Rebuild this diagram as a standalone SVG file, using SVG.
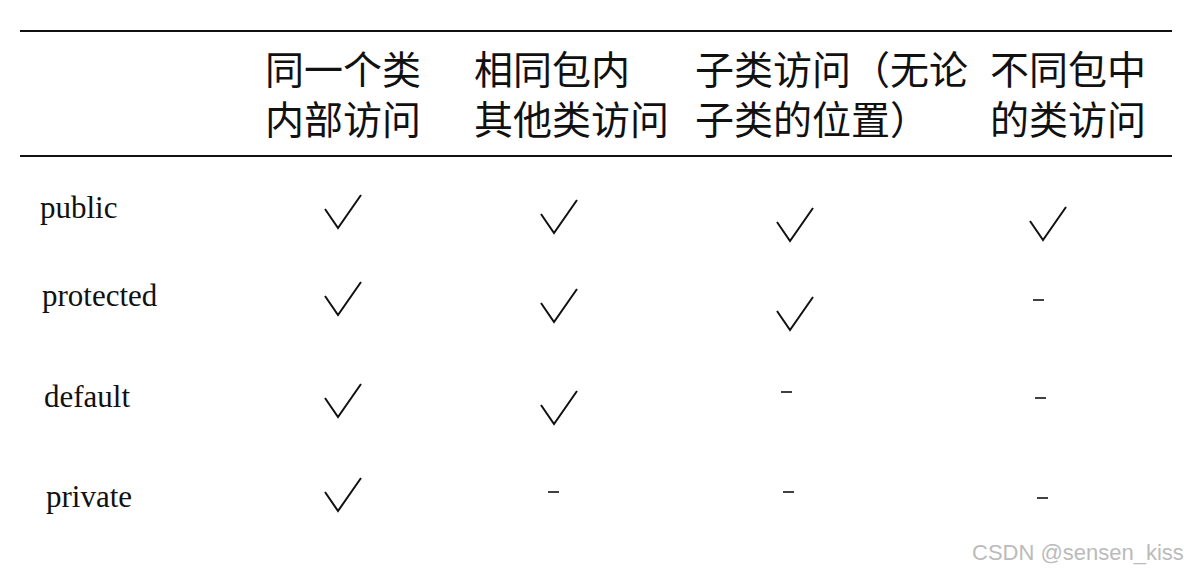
<svg xmlns="http://www.w3.org/2000/svg" width="1184" height="573" viewBox="0 0 1184 573">
<style>
.h{font-family:"Noto Sans CJK SC","Noto Sans",sans-serif;font-size:39px;fill:#111}
.r{font-family:"Liberation Serif",serif;font-size:31px;fill:#111}
.ck{fill:none;stroke:#111;stroke-width:2}
.d{stroke:#111;stroke-width:1.6}
</style>
<defs><polyline id="c" class="ck" points="0,14 13,33 36,0"/></defs>
<rect width="1184" height="573" fill="#fff"/>
<line x1="20" y1="31" x2="1172" y2="31" stroke="#111" stroke-width="2"/>
<line x1="20" y1="156" x2="1172" y2="156" stroke="#111" stroke-width="2"/>
<g id="header">
<text class="h" x="265" y="84">同一个类</text><text class="h" x="265" y="134">内部访问</text>
<text class="h" x="474" y="84">相同包内</text><text class="h" x="474" y="134">其他类访问</text>
<text class="h" x="695" y="84">子类访问（无论</text><text class="h" x="695" y="134">子类的位置）</text>
<text class="h" x="990" y="84">不同包中</text><text class="h" x="990" y="134">的类访问</text>
</g>
<g id="rows">
<text class="r" x="40" y="218">public</text>
<text class="r" x="42" y="306">protected</text>
<text class="r" x="44" y="407">default</text>
<text class="r" x="46" y="507">private</text>
</g>
<g id="marks">
<use href="#c" x="325" y="195"/><use href="#c" x="541" y="200"/><use href="#c" x="777" y="208"/><use href="#c" x="1030" y="207"/>
<use href="#c" x="325" y="282"/><use href="#c" x="541" y="289"/><use href="#c" x="777" y="297"/>
<line class="d" x1="1033" y1="300" x2="1044" y2="300"/>
<use href="#c" x="325" y="384"/><use href="#c" x="541" y="391"/>
<line class="d" x1="781" y1="392" x2="792" y2="392"/>
<line class="d" x1="1035" y1="398" x2="1046" y2="398"/>
<use href="#c" x="325" y="478"/>
<line class="d" x1="548" y1="492" x2="559" y2="492"/>
<line class="d" x1="783" y1="492" x2="794" y2="492"/>
<line class="d" x1="1037" y1="498" x2="1048" y2="498"/>
</g>
<text x="972" y="560" font-family="Liberation Sans,sans-serif" font-size="22" fill="#bbb">CSDN @sensen_kiss</text>
</svg>
